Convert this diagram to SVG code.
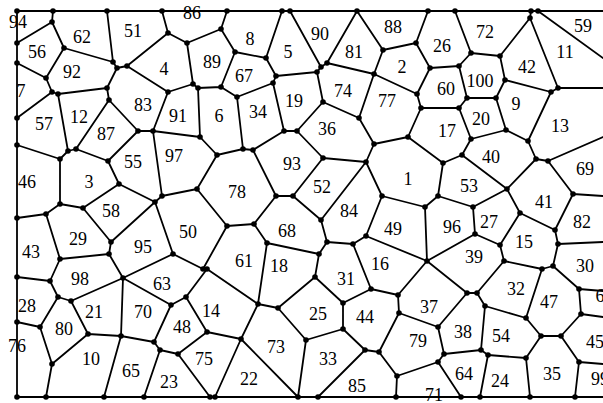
<svg xmlns="http://www.w3.org/2000/svg" width="603" height="403" viewBox="0 0 603 403">
<style>
.e{stroke:#000;stroke-width:1.8;fill:none;stroke-linecap:round}
.v{fill:#000}
text{font-family:"Liberation Serif","Times New Roman",serif;font-size:18px;fill:#000;text-anchor:middle}
</style>
<rect x="0" y="0" width="603" height="403" fill="#fff"/>
<g id="connectors" class="e">
<path d="M17 11L603 11M17 11L17 397M17 397L603 397"/>
<path d="M53 11L52 22M52 22L17 43M52 22L64 48M107 11L113 62M64 48L113 62M113 62L117 68M117 68L127 66M64 48L46 78M17 63L46 78M46 78L52 92M52 92L17 118M52 92L58 94M58 94L107 88M107 88L117 68M107 88L109 100M109 100L138 131M138 131L153 131M58 94L68 151M109 100L76 149M138 131L108 161M127 66L168 33M127 66L168 92"/>
<path d="M162 11L168 33M168 33L187 43M187 43L221 29M221 29L227 11M221 29L235 52M235 52L266 58M266 58L282 11M266 58L276 76M276 76L273 83M276 76L317 72M290 11L321 67M187 43L193 84M235 52L221 87M193 84L198 88M198 88L221 87M193 84L168 92M221 87L237 97M237 97L273 83M168 92L153 131M198 88L200 137M153 131L200 137M237 97L243 149M273 83L284 131M284 131L297 131"/>
<path d="M357 11L327 63M357 11L383 50M383 50L416 43M416 43L428 11M416 43L430 68M430 68L459 66M430 68L417 94M383 50L374 74M327 63L374 74M327 63L321 67M321 67L317 72M317 72L323 102M374 74L417 94M417 94L421 108M421 108L459 108M421 108L408 137M374 74L359 118M323 102L359 118M323 102L297 131M359 118L374 144"/>
<path d="M455 11L471 53M471 53L500 56M471 53L459 66M500 56L530 18M530 18L531 11M538 11L603 58M530 18L558 88M551 92L558 88M558 88L603 88M500 56L505 80M505 80L551 92M505 80L496 98M459 66L467 98M467 98L496 98M467 98L459 108M459 108L471 139M496 98L506 130M506 130L471 139M506 130L528 141M528 141L551 92"/>
<path d="M471 139L462 155M528 141L536 159M536 159L548 161M548 161L603 137M536 159L507 189M507 189L462 155M462 155L443 163M548 161L573 194M573 194L603 196M507 189L473 207M473 207L438 196M473 207L475 234M507 189L520 213M520 213L555 230M573 194L555 230M555 230L558 244M558 244L603 242M520 213L500 245M475 234L500 245M475 234L427 261M500 245L504 261M504 261L542 269M542 269L553 266M553 266L558 244"/>
<path d="M374 144L408 137M374 144L366 162M408 137L443 163M443 163L438 196M438 196L425 207M425 207L382 196M382 196L366 162M366 162L323 158M323 158L297 131M323 158L293 196M366 162L321 220M321 220L293 196M321 220L327 242M327 242L353 244M327 242L319 254M353 244L366 236M366 236L382 196M366 236L427 261M425 207L427 261M353 244L371 289M319 254L315 277M319 254L267 243M427 261L398 295M427 261L467 293"/>
<path d="M467 293L477 293M477 293L504 261M467 293L438 327M477 293L485 306M485 306L526 318M526 318L542 269M526 318L541 336M541 336L561 336M561 336L581 314M581 314L579 289M579 289L553 266M579 289L603 291M581 314L603 317M485 306L481 350M481 350L488 355M481 350L444 354M488 355L526 358M541 336L526 358M526 358L530 397M488 355L480 397M561 336L579 362M579 362L575 397M579 362L603 364M438 362L461 397"/>
<path d="M315 277L278 308M315 277L343 303M343 303L371 289M371 289L398 295M398 295L399 313M399 313L438 327M438 327L444 354M444 354L438 362M438 362L397 376M397 376L396 397M399 313L379 352M365 350L379 352M343 303L343 329M343 329L365 350M343 329L306 340M278 308L306 340M306 340L298 397M365 350L318 397M379 352L397 376"/>
<path d="M217 155L200 137M217 155L243 149M243 149L253 150M253 150L284 131M253 150L276 196M276 196L293 196M276 196L254 224M254 224L227 226M254 224L267 243M267 243L258 304M227 226L197 189M197 189L217 155M197 189L162 196M162 196L153 131M162 196L155 202M155 202L173 254M173 254L203 269M203 269L227 226M173 254L123 278M155 202L111 242M119 184L155 202"/>
<path d="M17 145L60 159M60 159L68 151M68 151L76 149M76 149L108 161M108 161L119 184M60 159L60 204M60 204L46 214M60 204L83 208M46 214L17 218M83 208L119 184M83 208L111 242M111 242L109 254M46 214L60 259M60 259L109 254M60 259L50 281M17 277L50 281M50 281L58 297M58 297L71 301M58 297L40 327M71 301L123 278M109 254L123 278M123 278L171 305M123 278L121 336M71 301L88 334M88 334L121 336M121 336L154 342M88 334L52 364M40 327L52 364M17 322L40 327M52 364L46 397M121 336L104 397M160 350L144 397"/>
<path d="M203 269L207 269M207 269L258 304M207 269L186 297M186 297L171 305M171 305L154 342M154 342L160 350M160 350L178 354M186 297L207 332M207 332L178 354M207 332L241 339M178 354L210 397M241 339L215 397M241 339L258 304M241 339L298 397M258 304L278 308"/>
</g>
<g id="vertices" class="v">
<circle cx="17" cy="11" r="2.8"/><circle cx="53" cy="11" r="2.8"/><circle cx="107" cy="11" r="2.8"/><circle cx="162" cy="11" r="2.8"/><circle cx="227" cy="11" r="2.8"/><circle cx="282" cy="11" r="2.8"/><circle cx="290" cy="11" r="2.8"/><circle cx="357" cy="11" r="2.8"/><circle cx="428" cy="11" r="2.8"/><circle cx="455" cy="11" r="2.8"/><circle cx="531" cy="11" r="2.8"/><circle cx="538" cy="11" r="2.8"/>
<circle cx="17" cy="397" r="2.8"/><circle cx="46" cy="397" r="2.8"/><circle cx="104" cy="397" r="2.8"/><circle cx="144" cy="397" r="2.8"/><circle cx="210" cy="397" r="2.8"/><circle cx="215" cy="397" r="2.8"/><circle cx="298" cy="397" r="2.8"/><circle cx="318" cy="397" r="2.8"/><circle cx="396" cy="397" r="2.8"/><circle cx="461" cy="397" r="2.8"/><circle cx="480" cy="397" r="2.8"/><circle cx="530" cy="397" r="2.8"/><circle cx="575" cy="397" r="2.8"/>
<circle cx="17" cy="43" r="2.8"/><circle cx="17" cy="63" r="2.8"/><circle cx="17" cy="118" r="2.8"/><circle cx="17" cy="145" r="2.8"/><circle cx="17" cy="218" r="2.8"/><circle cx="17" cy="277" r="2.8"/><circle cx="17" cy="322" r="2.8"/>
<circle cx="52" cy="22" r="2.8"/><circle cx="64" cy="48" r="2.8"/><circle cx="46" cy="78" r="2.8"/><circle cx="52" cy="92" r="2.8"/><circle cx="58" cy="94" r="2.8"/><circle cx="107" cy="88" r="2.8"/><circle cx="113" cy="62" r="2.8"/><circle cx="117" cy="68" r="2.8"/><circle cx="127" cy="66" r="2.8"/><circle cx="109" cy="100" r="2.8"/><circle cx="138" cy="131" r="2.8"/><circle cx="153" cy="131" r="2.8"/>
<circle cx="168" cy="33" r="2.8"/><circle cx="187" cy="43" r="2.8"/><circle cx="221" cy="29" r="2.8"/><circle cx="235" cy="52" r="2.8"/><circle cx="266" cy="58" r="2.8"/><circle cx="276" cy="76" r="2.8"/><circle cx="273" cy="83" r="2.8"/><circle cx="193" cy="84" r="2.8"/><circle cx="198" cy="88" r="2.8"/><circle cx="221" cy="87" r="2.8"/><circle cx="237" cy="97" r="2.8"/><circle cx="168" cy="92" r="2.8"/><circle cx="200" cy="137" r="2.8"/><circle cx="284" cy="131" r="2.8"/><circle cx="297" cy="131" r="2.8"/>
<circle cx="383" cy="50" r="2.8"/><circle cx="416" cy="43" r="2.8"/><circle cx="430" cy="68" r="2.8"/><circle cx="327" cy="63" r="2.8"/><circle cx="321" cy="67" r="2.8"/><circle cx="317" cy="72" r="2.8"/><circle cx="374" cy="74" r="2.8"/><circle cx="417" cy="94" r="2.8"/><circle cx="421" cy="108" r="2.8"/><circle cx="323" cy="102" r="2.8"/><circle cx="359" cy="118" r="2.8"/><circle cx="408" cy="137" r="2.8"/>
<circle cx="471" cy="53" r="2.8"/><circle cx="500" cy="56" r="2.8"/><circle cx="459" cy="66" r="2.8"/><circle cx="530" cy="18" r="2.8"/><circle cx="505" cy="80" r="2.8"/><circle cx="551" cy="92" r="2.8"/><circle cx="558" cy="88" r="2.8"/><circle cx="467" cy="98" r="2.8"/><circle cx="496" cy="98" r="2.8"/><circle cx="459" cy="108" r="2.8"/><circle cx="506" cy="130" r="2.8"/>
<circle cx="471" cy="139" r="2.8"/><circle cx="528" cy="141" r="2.8"/><circle cx="536" cy="159" r="2.8"/><circle cx="548" cy="161" r="2.8"/><circle cx="462" cy="155" r="2.8"/><circle cx="507" cy="189" r="2.8"/><circle cx="573" cy="194" r="2.8"/><circle cx="473" cy="207" r="2.8"/><circle cx="520" cy="213" r="2.8"/><circle cx="475" cy="234" r="2.8"/><circle cx="500" cy="245" r="2.8"/><circle cx="555" cy="230" r="2.8"/><circle cx="558" cy="244" r="2.8"/><circle cx="504" cy="261" r="2.8"/>
<circle cx="542" cy="269" r="2.8"/><circle cx="553" cy="266" r="2.8"/><circle cx="467" cy="293" r="2.8"/><circle cx="477" cy="293" r="2.8"/><circle cx="579" cy="289" r="2.8"/><circle cx="485" cy="306" r="2.8"/><circle cx="526" cy="318" r="2.8"/><circle cx="581" cy="314" r="2.8"/><circle cx="541" cy="336" r="2.8"/><circle cx="561" cy="336" r="2.8"/><circle cx="481" cy="350" r="2.8"/><circle cx="488" cy="355" r="2.8"/><circle cx="526" cy="358" r="2.8"/><circle cx="579" cy="362" r="2.8"/>
<circle cx="374" cy="144" r="2.8"/><circle cx="323" cy="158" r="2.8"/><circle cx="366" cy="162" r="2.8"/><circle cx="443" cy="163" r="2.8"/><circle cx="438" cy="196" r="2.8"/><circle cx="382" cy="196" r="2.8"/><circle cx="425" cy="207" r="2.8"/><circle cx="321" cy="220" r="2.8"/><circle cx="366" cy="236" r="2.8"/><circle cx="327" cy="242" r="2.8"/><circle cx="353" cy="244" r="2.8"/><circle cx="427" cy="261" r="2.8"/><circle cx="319" cy="254" r="2.8"/>
<circle cx="315" cy="277" r="2.8"/><circle cx="371" cy="289" r="2.8"/><circle cx="398" cy="295" r="2.8"/><circle cx="343" cy="303" r="2.8"/><circle cx="399" cy="313" r="2.8"/><circle cx="343" cy="329" r="2.8"/><circle cx="306" cy="340" r="2.8"/><circle cx="365" cy="350" r="2.8"/><circle cx="379" cy="352" r="2.8"/><circle cx="438" cy="327" r="2.8"/><circle cx="444" cy="354" r="2.8"/><circle cx="438" cy="362" r="2.8"/><circle cx="397" cy="376" r="2.8"/>
<circle cx="217" cy="155" r="2.8"/><circle cx="243" cy="149" r="2.8"/><circle cx="253" cy="150" r="2.8"/><circle cx="197" cy="189" r="2.8"/><circle cx="162" cy="196" r="2.8"/><circle cx="155" cy="202" r="2.8"/><circle cx="276" cy="196" r="2.8"/><circle cx="293" cy="196" r="2.8"/><circle cx="227" cy="226" r="2.8"/><circle cx="254" cy="224" r="2.8"/><circle cx="267" cy="243" r="2.8"/><circle cx="173" cy="254" r="2.8"/>
<circle cx="60" cy="159" r="2.8"/><circle cx="68" cy="151" r="2.8"/><circle cx="76" cy="149" r="2.8"/><circle cx="108" cy="161" r="2.8"/><circle cx="119" cy="184" r="2.8"/><circle cx="60" cy="204" r="2.8"/><circle cx="46" cy="214" r="2.8"/><circle cx="83" cy="208" r="2.8"/><circle cx="111" cy="242" r="2.8"/><circle cx="109" cy="254" r="2.8"/><circle cx="60" cy="259" r="2.8"/>
<circle cx="50" cy="281" r="2.8"/><circle cx="123" cy="278" r="2.8"/><circle cx="58" cy="297" r="2.8"/><circle cx="71" cy="301" r="2.8"/><circle cx="40" cy="327" r="2.8"/><circle cx="88" cy="334" r="2.8"/><circle cx="121" cy="336" r="2.8"/><circle cx="154" cy="342" r="2.8"/><circle cx="52" cy="364" r="2.8"/>
<circle cx="203" cy="269" r="2.8"/><circle cx="207" cy="269" r="2.8"/><circle cx="186" cy="297" r="2.8"/><circle cx="171" cy="305" r="2.8"/><circle cx="160" cy="350" r="2.8"/><circle cx="178" cy="354" r="2.8"/><circle cx="207" cy="332" r="2.8"/><circle cx="241" cy="339" r="2.8"/><circle cx="258" cy="304" r="2.8"/><circle cx="278" cy="308" r="2.8"/>
</g>
<g id="n94"><text x="18" y="28">94</text></g>
<g id="n62"><text x="82" y="43">62</text></g>
<g id="n51"><text x="133" y="37">51</text></g>
<g id="n56"><text x="37" y="58">56</text></g>
<g id="n92"><text x="72" y="78">92</text></g>
<g id="n7"><text x="21" y="97">7</text></g>
<g id="n83"><text x="143" y="111">83</text></g>
<g id="n12"><text x="79" y="123">12</text></g>
<g id="n57"><text x="44" y="130">57</text></g>
<g id="n87"><text x="106" y="140">87</text></g>
<g id="n86"><text x="192" y="19">86</text></g>
<g id="n8"><text x="250" y="45">8</text></g>
<g id="n5"><text x="288" y="58">5</text></g>
<g id="n4"><text x="164" y="75">4</text></g>
<g id="n89"><text x="212" y="68">89</text></g>
<g id="n67"><text x="244" y="82">67</text></g>
<g id="n19"><text x="294" y="107">19</text></g>
<g id="n91"><text x="178" y="122">91</text></g>
<g id="n6"><text x="219" y="122">6</text></g>
<g id="n34"><text x="258" y="118">34</text></g>
<g id="n90"><text x="320" y="40">90</text></g>
<g id="n88"><text x="393" y="33">88</text></g>
<g id="n81"><text x="354" y="58">81</text></g>
<g id="n26"><text x="442" y="52">26</text></g>
<g id="n2"><text x="402" y="73">2</text></g>
<g id="n74"><text x="343" y="97">74</text></g>
<g id="n77"><text x="387" y="107">77</text></g>
<g id="n60"><text x="446" y="95">60</text></g>
<g id="n36"><text x="327" y="135">36</text></g>
<g id="n17"><text x="447" y="137">17</text></g>
<g id="n72"><text x="485" y="38">72</text></g>
<g id="n59"><text x="583" y="32">59</text></g>
<g id="n11"><text x="565" y="58">11</text></g>
<g id="n42"><text x="527" y="73">42</text></g>
<g id="n100"><text x="480" y="87">100</text></g>
<g id="n9"><text x="516" y="110">9</text></g>
<g id="n20"><text x="481" y="125">20</text></g>
<g id="n13"><text x="560" y="132">13</text></g>
<g id="n46"><text x="27" y="188">46</text></g>
<g id="n3"><text x="89" y="188">3</text></g>
<g id="n55"><text x="133" y="168">55</text></g>
<g id="n58"><text x="111" y="217">58</text></g>
<g id="n29"><text x="78" y="245">29</text></g>
<g id="n43"><text x="31" y="258">43</text></g>
<g id="n95"><text x="143" y="253">95</text></g>
<g id="n97"><text x="174" y="162">97</text></g>
<g id="n93"><text x="292" y="170">93</text></g>
<g id="n78"><text x="237" y="198">78</text></g>
<g id="n50"><text x="188" y="238">50</text></g>
<g id="n68"><text x="287" y="237">68</text></g>
<g id="n61"><text x="244" y="267">61</text></g>
<g id="n18"><text x="279" y="272">18</text></g>
<g id="n52"><text x="322" y="193">52</text></g>
<g id="n1"><text x="408" y="185">1</text></g>
<g id="n84"><text x="349" y="217">84</text></g>
<g id="n49"><text x="393" y="235">49</text></g>
<g id="n96"><text x="452" y="233">96</text></g>
<g id="n16"><text x="380" y="270">16</text></g>
<g id="n40"><text x="491" y="163">40</text></g>
<g id="n69"><text x="585" y="175">69</text></g>
<g id="n53"><text x="469" y="192">53</text></g>
<g id="n41"><text x="544" y="208">41</text></g>
<g id="n27"><text x="489" y="228">27</text></g>
<g id="n82"><text x="582" y="228">82</text></g>
<g id="n15"><text x="524" y="248">15</text></g>
<g id="n39"><text x="474" y="263">39</text></g>
<g id="n30"><text x="585" y="272">30</text></g>
<g id="n98"><text x="80" y="285">98</text></g>
<g id="n28"><text x="27" y="312">28</text></g>
<g id="n21"><text x="94" y="318">21</text></g>
<g id="n70"><text x="143" y="318">70</text></g>
<g id="n80"><text x="64" y="335">80</text></g>
<g id="n76"><text x="17" y="352">76</text></g>
<g id="n10"><text x="91" y="365">10</text></g>
<g id="n65"><text x="131" y="377">65</text></g>
<g id="n63"><text x="162" y="290">63</text></g>
<g id="n14"><text x="211" y="317">14</text></g>
<g id="n48"><text x="182" y="333">48</text></g>
<g id="n73"><text x="276" y="353">73</text></g>
<g id="n75"><text x="204" y="365">75</text></g>
<g id="n22"><text x="249" y="385">22</text></g>
<g id="n23"><text x="169" y="388">23</text></g>
<g id="n31"><text x="346" y="285">31</text></g>
<g id="n25"><text x="318" y="320">25</text></g>
<g id="n44"><text x="365" y="323">44</text></g>
<g id="n37"><text x="429" y="313">37</text></g>
<g id="n79"><text x="418" y="347">79</text></g>
<g id="n33"><text x="328" y="365">33</text></g>
<g id="n85"><text x="357" y="392">85</text></g>
<g id="n71"><text x="434" y="401">71</text></g>
<g id="n32"><text x="516" y="295">32</text></g>
<g id="n47"><text x="549" y="308">47</text></g>
<g id="n6b"><text x="600" y="302">6</text></g>
<g id="n38"><text x="463" y="338">38</text></g>
<g id="n54"><text x="501" y="342">54</text></g>
<g id="n45"><text x="586" y="348" style="text-anchor:start">45</text></g>
<g id="n64"><text x="464" y="380">64</text></g>
<g id="n24"><text x="500" y="387">24</text></g>
<g id="n35"><text x="552" y="380">35</text></g>
<g id="n99"><text x="591" y="385" style="text-anchor:start">99</text></g>
</svg>
